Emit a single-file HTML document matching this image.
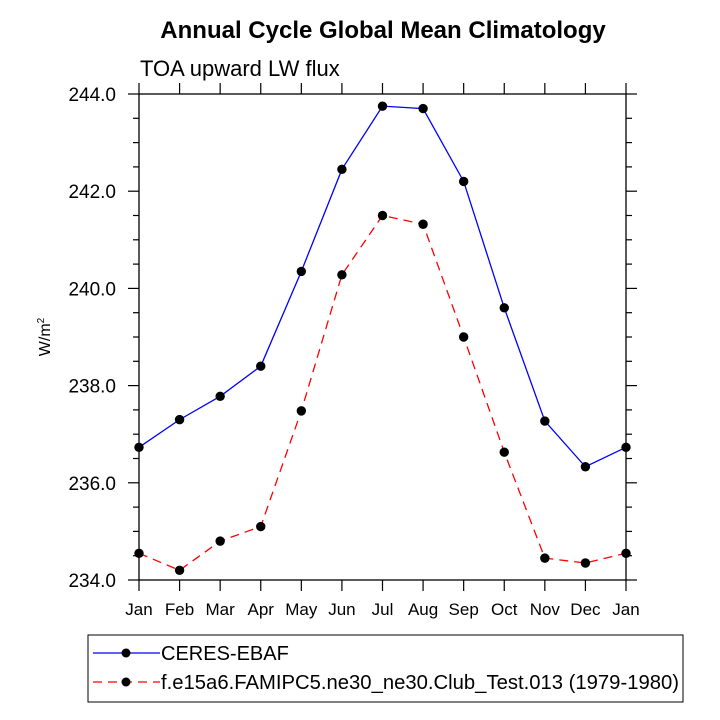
<!DOCTYPE html>
<html><head><meta charset="utf-8"><style>
html,body{margin:0;padding:0;background:#fff;}
svg{display:block;font-family:"Liberation Sans",sans-serif;}
</style></head><body>
<svg id="chart" width="720" height="720" viewBox="0 0 720 720">
<text x="383" y="38" text-anchor="middle" font-size="24" font-weight="bold">Annual Cycle Global Mean Climatology</text>
<text x="140" y="76" font-size="22">TOA upward LW flux</text>
<text transform="translate(50,337) rotate(-90)" text-anchor="middle" font-size="16">W/m<tspan dy="-6" font-size="10">2</tspan></text>
<g id="axes"></g>
<g id="series"></g>
<rect x="88" y="635" width="595" height="67" fill="none" stroke="#000" stroke-width="1"/>
<g>
<line x1="93" y1="653" x2="160" y2="653" stroke="#00f" stroke-width="1.3"/>
<circle cx="126" cy="653" r="4.5" fill="#000"/>
<text x="161" y="660" font-size="20">CERES-EBAF</text>
</g>
<g>
<line x1="93" y1="682" x2="160" y2="682" stroke="#f00" stroke-width="1.3" stroke-dasharray="9,6"/>
<circle cx="126" cy="682" r="4.5" fill="#000"/>
<text x="161" y="689" font-size="20" textLength="518" lengthAdjust="spacingAndGlyphs">f.e15a6.FAMIPC5.ne30_ne30.Club_Test.013 (1979-1980)</text>
</g>
</svg>
<script>
const months = ["Jan","Feb","Mar","Apr","May","Jun","Jul","Aug","Sep","Oct","Nov","Dec","Jan"];
const ceresValues = [236.73,237.30,237.78,238.40,240.35,242.45,243.75,243.70,242.20,239.60,237.27,236.33,236.73];
const modelValues = [234.55,234.20,234.80,235.10,237.48,240.28,241.50,241.32,239.00,236.63,234.45,234.35,234.55];
const yTicks = [234,236,238,240,242,244];
const yTickLabels = ["234.0","236.0","238.0","240.0","242.0","244.0"];

const NS="http://www.w3.org/2000/svg";
const X0=139,X1=626,Y0=580,Y1=94,YMIN=234,YMAX=244;
function xs(i){return X0+(X1-X0)*i/(months.length-1);}
function ys(v){return Y0-(v-YMIN)/(YMAX-YMIN)*(Y0-Y1);}
function mk(tag,attrs,parent){const e=document.createElementNS(NS,tag);for(const k in attrs)e.setAttribute(k,attrs[k]);parent.appendChild(e);return e;}
const axes=document.getElementById('axes');
const frame=mk('rect',{x:X0,y:Y1,width:X1-X0,height:Y0-Y1,fill:'none',stroke:'#000','stroke-width':1.3},axes);


for(let v=YMIN;v<=YMAX+1e-9;v+=0.5){
  const major=Math.abs(v-Math.round(v/2)*2)<1e-9;
  const L=major?11:6;const y=ys(v);
  mk('line',{x1:X0-L,y1:y,x2:X0,y2:y,stroke:'#000','stroke-width':1.2},axes);
  mk('line',{x1:X1,y1:y,x2:X1+L,y2:y,stroke:'#000','stroke-width':1.2},axes);
}
yTicks.forEach((v,i)=>{
  const t=mk('text',{x:X0-23,y:ys(v)+7,'text-anchor':'end','font-size':19},axes);
  t.textContent=yTickLabels[i];
  
  
});
months.forEach((m,i)=>{
  const x=xs(i);
  mk('line',{x1:x,y1:Y0,x2:x,y2:Y0+11,stroke:'#000','stroke-width':1.2},axes);
  mk('line',{x1:x,y1:Y1-11,x2:x,y2:Y1,stroke:'#000','stroke-width':1.2},axes);
  const t=mk('text',{x:x,y:Y0+35,'text-anchor':'middle','font-size':17},axes);
  t.textContent=m;
  
  
});
const ser=document.getElementById('series');
function draw(vals,color,dash,name){
  const pts=vals.map((v,i)=>xs(i)+','+ys(v)).join(' ');
  const pl=mk('polyline',{points:pts,fill:'none',stroke:color,'stroke-width':1.3,'stroke-dasharray':dash},ser);
  
  
  vals.forEach((v,i)=>{
    const c=mk('circle',{cx:xs(i),cy:ys(v),r:4.7,fill:'#000'},ser);
    
    
  });
}
draw(ceresValues,'#00f','none','ceres');
draw(modelValues,'#f00','9,6','model');
</script>
</body></html>
